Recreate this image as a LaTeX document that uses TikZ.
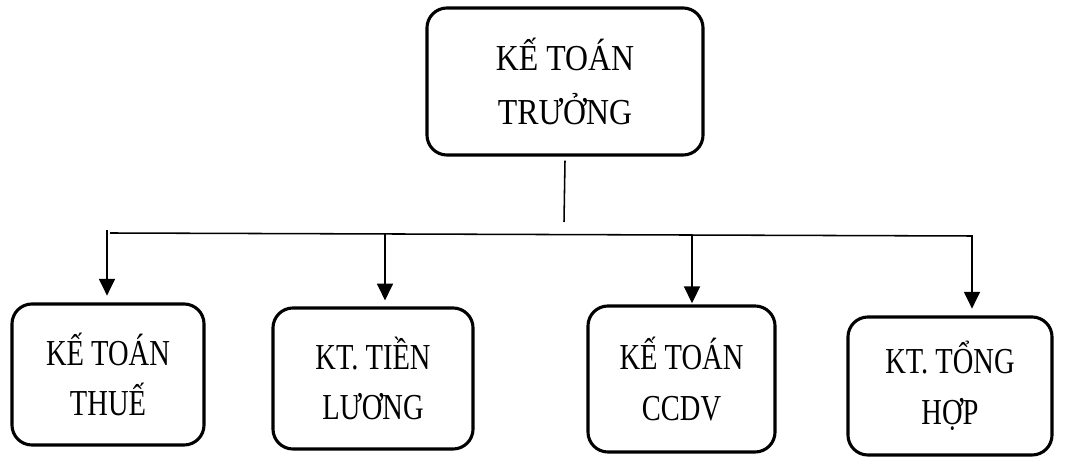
\documentclass[tikz,border=0pt]{standalone}
\usepackage{fontspec}
\setmainfont{Liberation Serif}
\newfontfamily\headfont[FakeStretch=0.87]{Liberation Serif}
\newfontfamily\unitfont[FakeStretch=0.78]{Liberation Serif}
\usetikzlibrary{arrows.meta}

\begin{document}
\begin{tikzpicture}[x=0.025cm,y=-0.025cm,
    box/.style={draw,line width=2.2pt,rounded corners=0.5cm,align=center,inner sep=0pt},
    unit/.style={box,font=\unitfont\fontsize{26}{36}\selectfont},
    arr/.style={-{Triangle[length=0.42cm,width=0.4cm]},line width=1.1pt}]
  \useasboundingbox (0,0) rectangle (1066,457);

  \node[box,minimum width=6.9cm,minimum height=3.675cm,font=\headfont\fontsize{26}{39}\selectfont] (ktt) at (565,81.5) {KẾ TOÁN\\TRƯỞNG};

  \node[unit,minimum width=4.8cm,minimum height=3.525cm] (thue) at (108,374.5) {KẾ TOÁN\\THUẾ};
  \node[unit,minimum width=5cm,minimum height=3.525cm] (luong) at (373,378.5) {KT. TIỀN\\LƯƠNG};
  \node[unit,minimum width=4.675cm,minimum height=3.65cm] (ccdv) at (681.5,379) {KẾ TOÁN\\CCDV};
  \node[unit,minimum width=5.1cm,minimum height=3.45cm] (tonghop) at (950,386) {KT. TỔNG\\HỢP};

  \coordinate (stem) at (564,222);
  \coordinate (bl) at (110,233);
  \coordinate (br) at (972,236);
  \coordinate (a1) at (107,230);
  \coordinate (a2) at (385,234);
  \coordinate (a3) at (692,235);

  \draw[line width=1.1pt] ([yshift=-0.1cm]ktt.south) -- (stem);
  \draw[arr,shorten >=0.17cm] (bl) -- (br) -- (br |- tonghop.north);
  \draw[arr,shorten >=0.17cm] (a1) -- (a1 |- thue.north);
  \draw[arr,shorten >=0.15cm] (a2) -- (a2 |- luong.north);
  \draw[arr,shorten >=0.03cm] (a3) -- (a3 |- ccdv.north);
\end{tikzpicture}
\end{document}
